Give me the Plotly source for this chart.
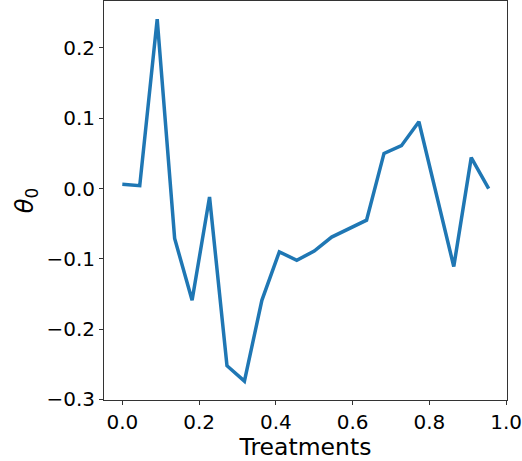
import plotly.graph_objects as go

treatments = [i / 22 for i in range(22)]
theta0 = [0.006, 0.004, 0.241, -0.071, -0.159, -0.012, -0.252, -0.274,
          -0.159, -0.090, -0.102, -0.089, -0.069, -0.057, -0.045, 0.050,
          0.061, 0.095, -0.008, -0.111, 0.044, 0.000]

fig = go.Figure()
fig.add_trace(go.Scatter(x=treatments, y=theta0, mode="lines",
                         line=dict(color="#1f77b4", width=3.5)))

font = "DejaVu Sans"
axis_common = dict(showline=True, mirror=True, linecolor="#333333", linewidth=1,
                   ticks="outside", ticklen=4, tickwidth=1, tickcolor="#333333",
                   showgrid=False, zeroline=False, ticklabeloverflow="allow",
                   tickfont=dict(family=font, size=20, color="black"))

fig.update_layout(
    width=522, height=461,
    margin=dict(l=104, r=15, t=1, b=61),
    paper_bgcolor="white", plot_bgcolor="white",
    showlegend=False,
    xaxis=dict(range=[-0.0477, 1.0023], dtick=0.2, tick0=0, tickformat=".1f",
               title=dict(text="Treatments", font=dict(family=font, size=23.5, color="black"),
                          standoff=0),
               **axis_common),
    yaxis=dict(range=[-0.3008, 0.2668], dtick=0.1, tick0=0, tickformat=".1f",
               title=dict(text="<i>θ</i><sub>0</sub>", font=dict(family=font, size=24, color="black"),
                          standoff=6),
               **axis_common),
)

fig.write_html("out.html")
